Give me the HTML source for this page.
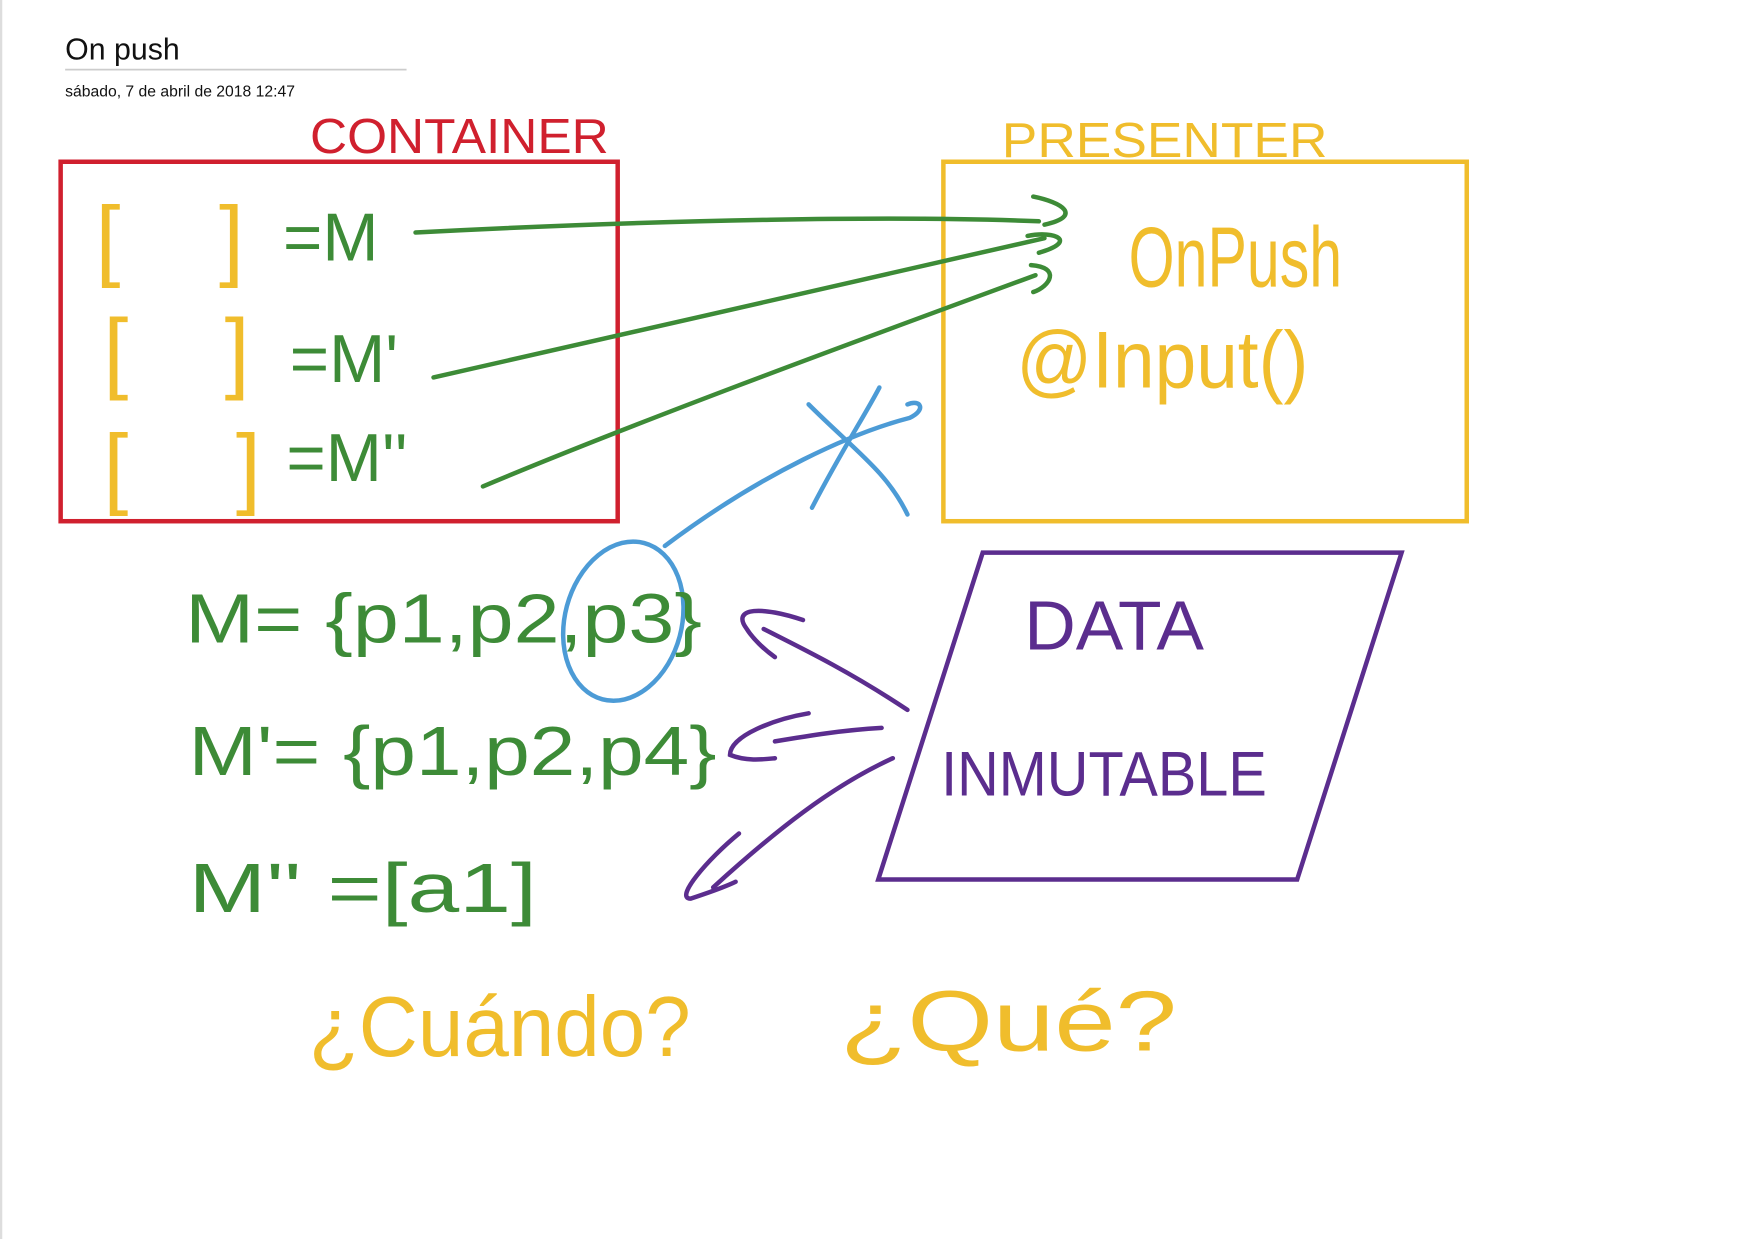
<!DOCTYPE html>
<html><head><meta charset="utf-8"><style>
html,body{margin:0;padding:0;background:#fff;width:1752px;height:1239px;overflow:hidden}
svg{display:block}
.hw{font-family:"Liberation Sans",sans-serif;font-weight:300}
</style></head><body>
<svg width="1752" height="1239" viewBox="0 0 1560 1103" preserveAspectRatio="none">
<line x1="1" y1="0" x2="1" y2="1103" stroke="#ddd" stroke-width="2"/>
<text x="58" y="53" font-family="Liberation Sans" font-size="27" fill="#111">On push</text>
<line x1="58" y1="62" x2="362" y2="62" stroke="#ccc" stroke-width="1.5"/>
<text x="58" y="86" font-family="Liberation Sans" font-size="14" fill="#111">sábado, 7 de abril de 2018     12:47</text>

<text x="276" y="136" font-family="Liberation Sans" font-size="44" fill="#d0202e" textLength="266" lengthAdjust="spacingAndGlyphs">CONTAINER</text>
<rect x="54" y="144" width="496" height="320" fill="none" stroke="#d0202e" stroke-width="4"/>

<text x="892" y="140" font-family="Liberation Sans" font-size="44" fill="#f0bd2c" textLength="290" lengthAdjust="spacingAndGlyphs">PRESENTER</text>
<rect x="840" y="144" width="466" height="320" fill="none" stroke="#f0bd2c" stroke-width="4"/>

<g fill="#f0bd2c" font-family="Liberation Sans" font-size="80">
<text x="85" y="240">[</text><text x="195" y="240">]</text>
<text x="92" y="340">[</text><text x="200" y="340">]</text>
<text x="92" y="443">[</text><text x="210" y="443">]</text>
</g>
<g fill="#3d8b37" font-family="Liberation Sans" font-size="60">
<text x="252" y="232">=M</text>
<text x="258" y="340">=M'</text>
<text x="255" y="428">=M''</text>
</g>
<g fill="none" stroke="#3d8b37" stroke-width="4" stroke-linecap="round">
<path d="M370 207 C600 195 800 192 925 197"/>
<path d="M920 175 C945 180 965 192 930 200"/>
<path d="M386 336 C550 300 800 240 930 212"/>
<path d="M915 210 C940 205 960 215 925 225"/>
<path d="M430 433 C580 370 800 290 922 245"/>
<path d="M918 236 C945 238 935 255 920 260"/>
</g>
<text x="1005" y="255" font-family="Liberation Sans" font-size="76" fill="#f0bd2c" textLength="190" lengthAdjust="spacingAndGlyphs">OnPush</text>
<text x="905" y="345" font-family="Liberation Sans" font-size="72" fill="#f0bd2c" textLength="260" lengthAdjust="spacingAndGlyphs">@Input()</text>

<g fill="none" stroke="#4c9bd6" stroke-width="4" stroke-linecap="round">
<path d="M592 486 C680 420 760 385 810 372 C825 365 820 355 808 360"/>
<path d="M723 452 C750 400 770 370 783 345"/>
<path d="M720 360 C760 400 790 420 808 458"/>
<ellipse cx="555" cy="553" rx="52" ry="72" transform="rotate(15 555 553)"/>
</g>

<g fill="#3d8b37" font-family="Liberation Sans" font-size="62">
<text x="165" y="572" textLength="460" lengthAdjust="spacingAndGlyphs">M= {p1,p2,p3}</text>
<text x="168" y="690" textLength="470" lengthAdjust="spacingAndGlyphs">M'= {p1,p2,p4}</text>
<text x="168" y="812" textLength="310" lengthAdjust="spacingAndGlyphs">M'' =[a1]</text>
</g>

<path d="M875 492 L1248 492 L1155 783 L782 783 Z" fill="none" stroke="#5b2d8e" stroke-width="4"/>
<text x="912" y="578" font-family="Liberation Sans" font-size="62" fill="#5b2d8e" textLength="160" lengthAdjust="spacingAndGlyphs">DATA</text>
<text x="838" y="708" font-family="Liberation Sans" font-size="56" fill="#5b2d8e" textLength="290" lengthAdjust="spacingAndGlyphs">INMUTABLE</text>
<g fill="none" stroke="#5b2d8e" stroke-width="4" stroke-linecap="round">
<path d="M808 632 C760 600 720 580 680 560"/>
<path d="M715 552 C680 540 650 540 665 560 C670 568 680 578 690 585"/>
<path d="M785 648 C750 650 720 655 690 660"/>
<path d="M720 635 C690 640 650 655 650 672 C665 678 680 676 690 675"/>
<path d="M795 675 C740 700 690 740 635 790"/>
<path d="M658 742 C630 765 600 800 615 800 C630 795 645 790 655 785"/>
</g>

<text x="275" y="940" font-family="Liberation Sans" font-size="76" fill="#f0bd2c" textLength="340" lengthAdjust="spacingAndGlyphs">¿Cuándo?</text>
<text x="748" y="935" font-family="Liberation Sans" font-size="76" fill="#f0bd2c" textLength="300" lengthAdjust="spacingAndGlyphs">¿Qué?</text>
</svg>
</body></html>
